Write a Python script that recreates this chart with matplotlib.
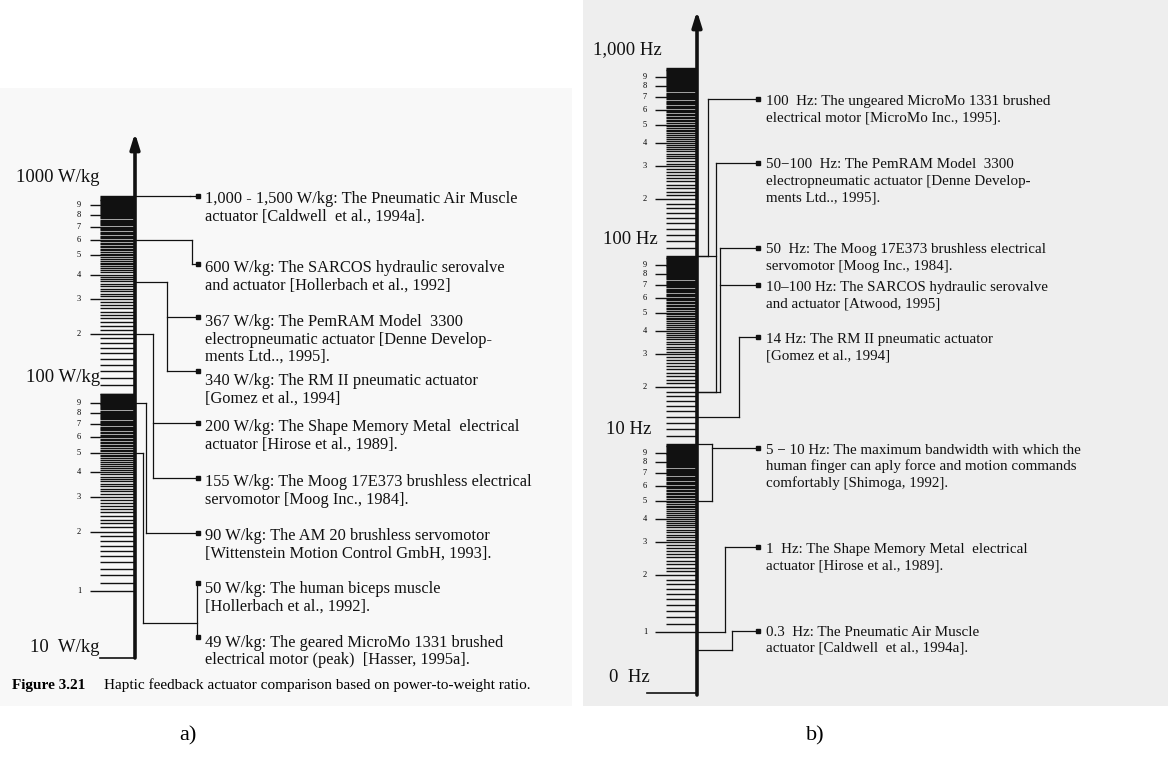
import numpy as np
import matplotlib.pyplot as plt
from matplotlib.patches import Rectangle

plt.rcParams['font.family'] = ['Liberation Serif', 'DejaVu Serif']

W, H = 1168, 764

# ---- panel a: power-to-weight ratio ruler (W/kg) ----
a_decades = [10, 100]
a_scale_labels = ["1000 W/kg", "100 W/kg", "10  W/kg"]
a_entries = [
    ["1,000 - 1,500 W/kg: The Pneumatic Air Muscle", "actuator [Caldwell  et al., 1994a]."],
    ["600 W/kg: The SARCOS hydraulic serovalve", "and actuator [Hollerbach et al., 1992]"],
    ["367 W/kg: The PemRAM Model  3300", "electropneumatic actuator [Denne Develop-", "ments Ltd.., 1995]."],
    ["340 W/kg: The RM II pneumatic actuator", "[Gomez et al., 1994]"],
    ["200 W/kg: The Shape Memory Metal  electrical", "actuator [Hirose et al., 1989]."],
    ["155 W/kg: The Moog 17E373 brushless electrical", "servomotor [Moog Inc., 1984]."],
    ["90 W/kg: The AM 20 brushless servomotor", "[Wittenstein Motion Control GmbH, 1993]."],
    ["50 W/kg: The human biceps muscle", "[Hollerbach et al., 1992]."],
    ["49 W/kg: The geared MicroMo 1331 brushed", "electrical motor (peak)  [Hasser, 1995a]."],
]
# value where each connector leaves the ruler, and which entries it feeds
a_conn_values = [[1000], [600], [367], [200], [90], [50]]
a_conn_entries = [[0], [1], [2, 3], [4, 5], [6], [7, 8]]

# ---- panel b: bandwidth ruler (Hz) ----
b_decades = [1, 10, 100]
b_scale_labels = ["1,000 Hz", "100 Hz", "10 Hz", "0  Hz"]
b_entries = [
    ["100  Hz: The ungeared MicroMo 1331 brushed", "electrical motor [MicroMo Inc., 1995]."],
    ["50\u2212100  Hz: The PemRAM Model  3300", "electropneumatic actuator [Denne Develop-", "ments Ltd.., 1995]."],
    ["50  Hz: The Moog 17E373 brushless electrical", "servomotor [Moog Inc., 1984]."],
    ["10\u2013100 Hz: The SARCOS hydraulic serovalve", "and actuator [Atwood, 1995]"],
    ["14 Hz: The RM II pneumatic actuator", "[Gomez et al., 1994]"],
    ["5 \u2212 10 Hz: The maximum bandwidth with which the",
     "human finger can aply force and motion commands", "comfortably [Shimoga, 1992]."],
    ["1  Hz: The Shape Memory Metal  electrical", "actuator [Hirose et al., 1989]."],
    ["0.3  Hz: The Pneumatic Air Muscle", "actuator [Caldwell  et al., 1994a]."],
]
b_conn_values = [[100], [100, 19], [19], [14], [10, 5], [1], [0.8]]
b_conn_entries = [[0], [1], [2, 3], [4], [5], [6], [7]]

# layout (pixels)
a_lay = dict(ylim=(1.331, 9826), axis_x=135, tip=133, bottom=658,
             block_x=100, long_x=90, digit_x=81, marker_x=198, text_x=205,
             line_h=17.5, fs=11.8,
             elbows=[190, 192, 167, 153, 146, 143],
             marker_y=[196, 264, 317, 371, 423, 478, 533, 583, 637],
             text_y=[199, 268, 322, 381, 427, 482, 536, 589, 643],
             bars={5: (197, 623)},
             labels=[(100, 178), (100, 378), (100, 647)], label_ha='right',
             label_fs=13.5, base=(100, 135, 658))
b_lay = dict(ylim=(0.1986, 2299), axis_x=697, tip=11, bottom=695,
             block_x=666, long_x=655, digit_x=647, marker_x=758, text_x=766,
             line_h=16.5, fs=10.8,
             elbows=[708, 716, 720, 739, 712, 725, 732],
             marker_y=[99, 163, 248, 285, 337, 448, 547, 631],
             text_y=[101, 165, 250, 287, 339, 450, 549, 632],
             bars={},
             labels=[(593, 50), (603, 240), (606, 430), (609, 678)], label_ha='left',
             label_fs=13.5, base=(647, 697, 693))

fig = plt.figure(figsize=(W / 100, H / 100), dpi=100)
over = fig.add_axes([0, 0, 1, 1], zorder=0)
over.set_xlim(0, W)
over.set_ylim(H, 0)
over.axis('off')

# scanned page backgrounds
over.add_patch(Rectangle((0, 88), 572, 618, color='#f8f8f8', lw=0, zorder=0))
over.add_patch(Rectangle((583, 0), W - 583, 706, color='#eeeeee', lw=0, zorder=0))


def draw_panel(lay, decades, entries, conn_values, conn_entries, scale_labels):
    ax = fig.add_axes([0, 0, 1, 1], zorder=1)
    ax.set_yscale('log')
    ax.set_ylim(*lay['ylim'])
    ax.set_xlim(0, W)
    ax.axis('off')
    ax.patch.set_alpha(0)

    # ruler ticks
    vals, x0s = [], []
    for d in decades:
        for k in range(1, 10):
            for j in range(10):
                v = d * (k + j / 10)
                if j == 0 and (k > 1 or d == decades[0]):
                    x0s.append(lay['long_x'])
                    ax.text(lay['digit_x'], v, str(k), fontsize=6, ha='right', va='center')
                else:
                    x0s.append(lay['block_x'])
                vals.append(v)
    vals.append(decades[-1] * 10)
    x0s.append(lay['block_x'])
    ax.hlines(vals, x0s, lay['axis_x'], color='#111111', lw=1.0)

    def ypx(v):
        return H - ax.transData.transform((0, v))[1]

    ax_x = lay['axis_x']
    over.annotate('', xy=(ax_x, lay['tip']), xytext=(ax_x, lay['bottom']),
                  arrowprops=dict(arrowstyle='-|>,head_length=0.9,head_width=0.28',
                                  lw=2.6, color='#111111', shrinkA=0, shrinkB=0))
    bx0, bx1, by = lay['base']
    over.plot([bx0, bx1], [by, by], color='#111111', lw=1.2)

    # connectors
    mx = lay['marker_x']
    for gi, (cv, ents) in enumerate(zip(conn_values, conn_entries)):
        ex = lay['elbows'][gi]
        sy = [ypx(v) for v in cv]
        ty = [lay['marker_y'][e] for e in ents]
        for y in sy:
            over.plot([ax_x, ex], [y, y], color='#111111', lw=0.9)
        if gi in lay['bars']:
            bar_x, jy = lay['bars'][gi]
            over.plot([ex, ex], [min(sy), jy], color='#111111', lw=0.9)
            over.plot([ex, bar_x], [jy, jy], color='#111111', lw=0.9)
            over.plot([bar_x, bar_x], [min(ty), max(ty)], color='#111111', lw=0.9)
        else:
            over.plot([ex, ex], [min(sy + ty), max(sy + ty)], color='#111111', lw=0.9)
            for y in ty:
                over.plot([ex, mx], [y, y], color='#111111', lw=0.9)
        over.plot([mx] * len(ty), ty, 's', ms=3.2, color='#111111')

    # entry texts
    for lines, y0 in zip(entries, lay['text_y']):
        for j, s in enumerate(lines):
            over.text(lay['text_x'], y0 + j * lay['line_h'], s, fontsize=lay['fs'],
                      va='center', ha='left', color='#111111')

    # scale labels
    for s, (x, y) in zip(scale_labels, lay['labels']):
        over.text(x, y, s, fontsize=lay['label_fs'], ha=lay['label_ha'], va='center',
                  color='#111111')
    return ax


draw_panel(a_lay, a_decades, a_entries, a_conn_values, a_conn_entries, a_scale_labels)
draw_panel(b_lay, b_decades, b_entries, b_conn_values, b_conn_entries, b_scale_labels)

# caption of the scanned figure
over.text(12, 685, "Figure 3.21", fontsize=11, fontweight='bold', va='center')
over.text(104, 685, "Haptic feedback actuator comparison based on power-to-weight ratio.",
          fontsize=11, va='center')

over.text(188, 736, "a)", fontsize=16, ha='center', va='center')
over.text(815, 736, "b)", fontsize=16, ha='center', va='center')

fig.savefig('out.png', dpi=100)
